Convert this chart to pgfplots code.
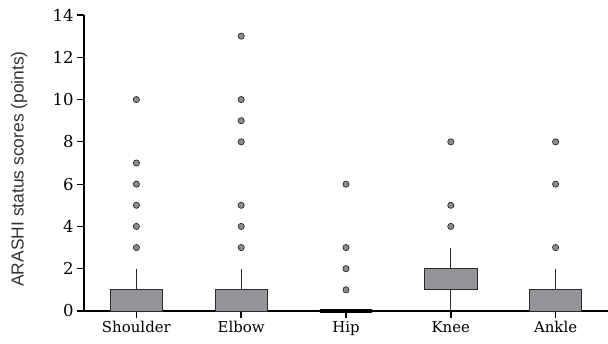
\documentclass[border=0pt]{standalone}
\usepackage{pgfplots}
\pgfplotsset{compat=1.18}
\usepgfplotslibrary{statistics}
\usepackage{fontspec}
\setmainfont{DejaVu Serif}
\newfontfamily\labelfont{Liberation Sans}
\newfontfamily\numfont{DejaVu Serif}
\definecolor{boxgray}{HTML}{939598}
\definecolor{dotgray}{HTML}{8C8C8C}
\definecolor{edge}{HTML}{2B2B2B}
\begin{document}
\begin{tikzpicture}
\useasboundingbox (-84bp,-33bp) rectangle (524bp,311bp);
\begin{axis}[
  scale only axis,
  width=524bp, height=296bp,
  xmin=-0.5, xmax=4.5, ymin=0, ymax=14,
  axis lines=left,
  axis line style={-, line width=1.3bp, black},
  ytick={0,2,...,14},
  xtick={0,1,2,3,4},
  xticklabels={Shoulder,Elbow,Hip,Knee,Ankle},
  yticklabel={\numfont\fontsize{16.5}{18}\selectfont\pgfmathparse{int(round(\tick))}\pgfmathresult},
  tick align=outside,
  major tick length=7bp,
  xtick style={line width=1.6bp, black},
  ytick style={line width=1.1bp, black},
  tick label style={font=\fontsize{15}{17}\selectfont},
  every axis y label/.style={at={(axis description cs:-0.124,0.48)}, rotate=90, anchor=center},
  ylabel={\labelfont\fontsize{17.5}{19}\selectfont\color[HTML]{333333}ARASHI status scores (points)},
  boxplot/draw direction=y,
  boxplot/whisker extend=0,
  boxplot/box extend=0.5,
  clip=false,
]
% Shoulder
\addplot+[boxplot prepared={lower whisker=0, lower quartile=0, median=0,
  upper quartile=1, upper whisker=2, draw position=0},
  draw=edge, line width=0.8bp, fill=boxgray, solid, mark=*, mark size=3.1bp, mark options={fill=dotgray, draw=edge, line width=0.7bp}]
  table[row sep=\\, y index=0] {3\\4\\5\\6\\7\\10\\};
% Elbow
\addplot+[boxplot prepared={lower whisker=0, lower quartile=0, median=0,
  upper quartile=1, upper whisker=2, draw position=1},
  draw=edge, line width=0.8bp, fill=boxgray, solid, mark=*, mark size=3.1bp, mark options={fill=dotgray, draw=edge, line width=0.7bp}]
  table[row sep=\\, y index=0] {3\\4\\5\\8\\9\\10\\13\\};
% Hip
\addplot+[boxplot prepared={lower whisker=0, lower quartile=0, median=0,
  upper quartile=0, upper whisker=0, draw position=2},
  draw=black, line width=3.4bp, fill=boxgray, solid, mark=*, mark size=3.1bp, mark options={fill=dotgray, draw=edge, line width=0.7bp}]
  table[row sep=\\, y index=0] {1\\2\\3\\6\\};
% Knee
\addplot+[boxplot prepared={lower whisker=0, lower quartile=1, median=1,
  upper quartile=2, upper whisker=3, draw position=3},
  draw=edge, line width=0.8bp, fill=boxgray, solid, mark=*, mark size=3.1bp, mark options={fill=dotgray, draw=edge, line width=0.7bp}]
  table[row sep=\\, y index=0] {4\\5\\8\\};
% Ankle
\addplot+[boxplot prepared={lower whisker=0, lower quartile=0, median=0,
  upper quartile=1, upper whisker=2, draw position=4},
  draw=edge, line width=0.8bp, fill=boxgray, solid, mark=*, mark size=3.1bp, mark options={fill=dotgray, draw=edge, line width=0.7bp}]
  table[row sep=\\, y index=0] {3\\6\\8\\};
\end{axis}
\end{tikzpicture}
\end{document}
